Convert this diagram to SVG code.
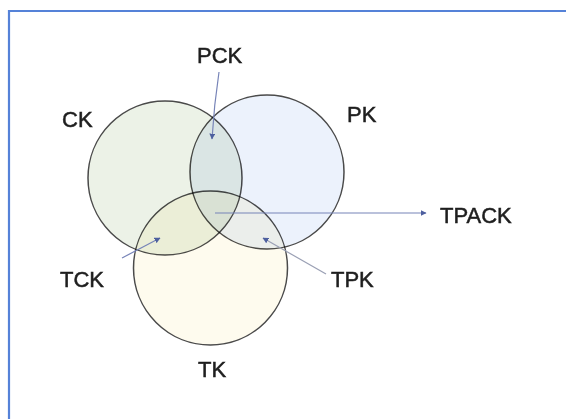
<svg xmlns="http://www.w3.org/2000/svg" width="566" height="419" viewBox="0 0 566 419">
<style>
  .lbl { font-family: "Liberation Sans", Arial, sans-serif; font-size: 22px; fill: #1e1e1e; stroke: #1e1e1e; stroke-width: 0.5; }
  .circ { stroke: #4a4a4a; stroke-width: 1.5; mix-blend-mode: multiply; }
  .conn { fill: none; stroke: #7784b8; stroke-width: 1.2; marker-end: url(#ah); }
</style>
<defs>
  <marker id="ah" viewBox="0 0 10 10" refX="9" refY="5" markerWidth="6" markerHeight="6" markerUnits="userSpaceOnUse" orient="auto">
    <path d="M0,0 L10,5 L0,10 z" fill="#4d5f9f"/>
  </marker>
</defs>
<rect width="566" height="419" fill="#ffffff"/>
<path d="M9,419 V11 H566" fill="none" stroke="#5582d8" stroke-width="2.2"/>
<g id="CK">
  <circle class="circ" cx="165" cy="178" r="77" fill="#ecf2e7"/>
  <text class="lbl" x="62" y="127">CK</text>
</g>
<g id="PK">
  <circle class="circ" cx="267" cy="172" r="77" fill="#ecf2fc"/>
  <text class="lbl" x="347" y="122">PK</text>
</g>
<g id="TK">
  <circle class="circ" cx="210.5" cy="268" r="77" fill="#fefbee"/>
  <text class="lbl" x="198" y="377">TK</text>
</g>
<g id="PCK"><text class="lbl" x="197" y="63">PCK</text></g>
<g id="TPACK"><text class="lbl" x="440" y="223">TPACK</text></g>
<g id="TCK"><text class="lbl" x="60" y="287">TCK</text></g>
<g id="TPK"><text class="lbl" x="331" y="287">TPK</text></g>
<g id="connectors">
  <path class="conn" d="M219,72 Q214,105 212,139"/>
  <path class="conn" d="M215,213 H426"/>
  <path class="conn" d="M122,258 L160,238"/>
  <path class="conn" d="M326,274 L263,238" style="stroke:#9aa0b4"/>
</g>
</svg>
